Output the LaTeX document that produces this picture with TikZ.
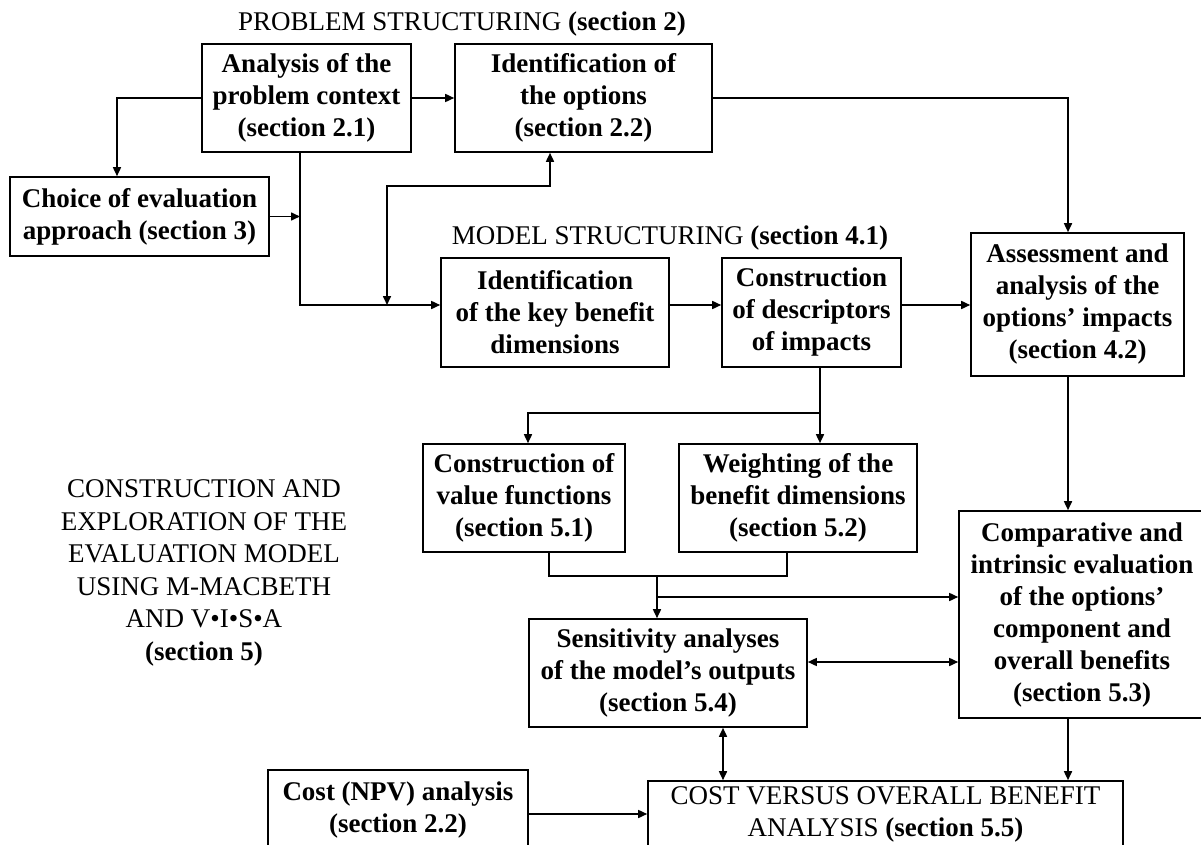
\documentclass[tikz,border=0pt]{standalone}
\usepackage{fontspec}
\setmainfont{Liberation Serif}
\usetikzlibrary{arrows.meta}
\begin{document}
\begin{tikzpicture}[x=1pt,y=-1pt,
  box/.style={draw, line width=1.6pt, align=center, inner sep=0pt, font=\fontsize{27}{32}\selectfont\bfseries},
  boxr/.style={draw, line width=1.6pt, align=center, inner sep=0pt, font=\fontsize{27}{32}\selectfont},
  ttl/.style={align=center, inner sep=0pt, font=\fontsize{27}{32.6}\selectfont},
  arr/.style={line width=1.6pt, -{Triangle[length=9pt,width=8pt]}},
  darr/.style={line width=1.6pt, {Triangle[length=9pt,width=8pt]}-{Triangle[length=9pt,width=8pt]}},
  ln/.style={line width=1.6pt}]
\useasboundingbox (0,0) rectangle (1201,845);
\clip (0,0) rectangle (1201,845);
\fill[white] (0,0) rectangle (1201,845);

% titles
\node[ttl, anchor=base] (t1) at (462,31) {PROBLEM STRUCTURING \textbf{(section 2)}};
\node[ttl, anchor=base] (t2) at (670,244) {MODEL STRUCTURING \textbf{(section 4.1)}};
\node[ttl] (t3) at (204,573) {CONSTRUCTION AND\\EXPLORATION OF THE\\EVALUATION MODEL\\USING M-MACBETH\\AND V•I•S•A\\\textbf{(section 5)}};

% boxes
\node[box, minimum width=209pt, minimum height=108pt] (A) at (306.5,98) {Analysis of the\\problem context\\(section 2.1)};
\node[box, minimum width=257pt, minimum height=108pt] (B) at (583.5,98) {Identification of\\the options\\(section 2.2)};
\node[box, minimum width=259pt, minimum height=79pt] (C) at (139.5,216.5) {Choice of evaluation\\approach (section 3)};
\node[box, minimum width=228pt, minimum height=109pt] (D) at (555,312.5) {Identification\\of the key benefit\\dimensions};
\node[box, minimum width=179pt, minimum height=109pt] (E) at (811.5,312.5) {Construction\\of descriptors\\of impacts};
\node[box, minimum width=213pt, minimum height=143pt] (F) at (1077.5,304.5) {Assessment and\\analysis of the\\options’ impacts\\(section 4.2)};
\node[box, minimum width=202pt, minimum height=108pt] (G) at (524,498) {Construction of\\value functions\\(section 5.1)};
\node[box, minimum width=238pt, minimum height=108pt] (H) at (798,498) {Weighting of the\\benefit dimensions\\(section 5.2)};
\node[box, minimum width=278pt, minimum height=108pt] (I) at (668,673) {Sensitivity analyses\\of the model’s outputs\\(section 5.4)};
\node[box, minimum width=246pt, minimum height=207pt] (J) at (1082,614.5) {Comparative and\\intrinsic evaluation\\of the options’\\component and\\overall benefits\\(section 5.3)};
\node[box, minimum width=260pt, minimum height=79pt] (K) at (398,809.5) {Cost (NPV) analysis\\(section 2.2)};
\node[boxr, minimum width=475pt, minimum height=66pt] (L) at (885.5,814) {COST VERSUS OVERALL BENEFIT\\ANALYSIS \textbf{(section 5.5)}};

% helper coordinates
\coordinate (cx) at (117,0);
\coordinate (j1) at (300,305);
\coordinate (bx) at (550,0);
\coordinate (k1) at (387,186);
\coordinate (k2) at (387,305);
\coordinate (fx) at (1068,0);
\coordinate (ex) at (820,0);
\coordinate (e1) at (820,413);
\coordinate (gx) at (528,0);
\coordinate (g2) at (549,576);
\coordinate (h2) at (787,576);
\coordinate (m1) at (657,576);
\coordinate (m2) at (657,597);
\coordinate (n1) at (0,662);
\coordinate (p1) at (723,0);
\coordinate (q1) at (0,814);

% connectors
\draw[arr] (A.west) -| (C.north -| cx);
\draw[arr] (A.east) -- (B.west);
\draw[arr] (A.south -| j1) |- (D.west |- j1);
\draw[arr] (C.east) -- (C.east -| j1);
\draw[darr] (B.south -| bx) |- (k1) -- (k2);
\draw[arr] (B.east) -| (F.north -| fx);
\draw[arr] (D.east |- j1) -- (E.west |- j1);
\draw[arr] (E.east |- j1) -- (F.west |- j1);
\draw[arr] (E.south -| ex) -- (H.north -| ex);
\draw[arr] (e1) -| (G.north -| gx);
\draw[arr] (F.south -| fx) -- (J.north -| fx);
\draw[ln] (G.south -| g2) -- (g2) -- (h2) -- (H.south -| h2);
\draw[arr] (m1) -- (I.north -| m1);
\draw[arr] (m2) -- (J.west |- m2);
\draw[darr] (I.east |- n1) -- (J.west |- n1);
\draw[darr] (I.south -| p1) -- (L.north -| p1);
\draw[arr] (J.south -| fx) -- (L.north -| fx);
\draw[arr] (K.east |- q1) -- (L.west |- q1);
\end{tikzpicture}
\end{document}
